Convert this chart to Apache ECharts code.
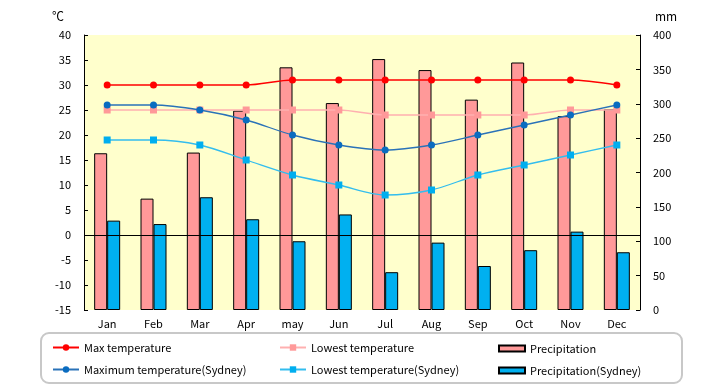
<!DOCTYPE html>
<html><head><meta charset="utf-8">
<script src="https://cdn.jsdelivr.net/npm/echarts@6/dist/echarts.min.js"></script>
<style>html,body{margin:0;padding:0;background:#fff}#c{width:720px;height:385px}</style>
</head><body><div id="c"></div>
<script>
const months = ['Jan','Feb','Mar','Apr','may','Jun','Jul','Aug','Sep','Oct','Nov','Dec'];
const maxTemp = [30,30,30,30,31,31,31,31,31,31,31,30];
const lowTemp = [25,25,25,25,25,25,24,24,24,24,25,25];
const precip = [228,162,229,290,353,301,365,349,306,360,282,292];
const maxTempSyd = [26,26,25,23,20,18,17,18,20,22,24,26];
const lowTempSyd = [19,19,18,15,12,10,8,9,12,14,16,18];
const precipSyd = [130,125,164,132,100,139,55,98,64,87,114,84];
const tempTicks = {min:-15, max:40, step:5};
const mmTicks = {min:0, max:400, step:50};
const names = ['Max temperature','Lowest temperature','Precipitation',
  'Maximum temperature(Sydney)','Lowest temperature(Sydney)','Precipitation(Sydney)'];

const FONT = '"Noto Sans CJK JP", "Noto Sans", sans-serif';
const chart = echarts.init(document.getElementById('c'), null, {renderer:'canvas'});

function legendAt(name, left, top, h, icon){
  const l = {data:[name], left:left, top:top, padding:0, itemWidth:26, itemHeight:h,
    selectedMode:false, textStyle:{fontFamily:FONT, fontSize:11, color:'#000'}};
  if (icon) l.icon = icon;
  return l;
}

const option = {
  animation:false,
  textStyle:{fontFamily:FONT},
  grid:{left:84, right:80, top:35, bottom:75, show:true, backgroundColor:'#FFFFCC', borderWidth:0},
  xAxis:{type:'category', data:months, axisLine:{show:false}, axisTick:{show:false},
    axisLabel:{color:'#000', fontSize:11, fontFamily:FONT, margin:8}},
  yAxis:[
    {type:'value', min:tempTicks.min, max:tempTicks.max, interval:tempTicks.step,
     axisLine:{show:true, lineStyle:{color:'#000', width:1}},
     axisTick:{show:true, inside:true, length:4, lineStyle:{color:'#000'}},
     axisLabel:{color:'#000', fontSize:11, fontFamily:FONT, margin:13},
     splitLine:{show:false}},
    {type:'value', min:mmTicks.min, max:mmTicks.max, interval:mmTicks.step, position:'right',
     axisLine:{show:true, lineStyle:{color:'#000', width:1}},
     axisTick:{show:true, inside:true, length:4, lineStyle:{color:'#000'}},
     axisLabel:{color:'#000', fontSize:11, fontFamily:FONT, margin:13},
     splitLine:{show:false}}
  ],
  legend:[
    legendAt(names[0], 52, 342, 8),
    legendAt(names[1], 279, 342, 8),
    legendAt(names[2], 498, 343, 6, 'rect'),
    legendAt(names[3], 52, 364, 8),
    legendAt(names[4], 279, 364, 8),
    legendAt(names[5], 498, 365, 6, 'rect')
  ],
  graphic:[
    {type:'rect', shape:{x:41, y:333, width:641, height:50, r:8}, style:{fill:'none', stroke:'#C8C8C8', lineWidth:2}, z:-1},
    {type:'text', left:52, top:10, style:{text:'℃', font:'12px '+FONT, fill:'#000'}},
    {type:'text', left:655, top:10, style:{text:'mm', font:'12px '+FONT, fill:'#000'}}
  ],
  series:[
    {name:names[2], type:'bar', yAxisIndex:1, data:precip, barWidth:13, barGap:'0%', z:1,
     itemStyle:{color:'#FF9999', borderColor:'#000', borderWidth:1}},
    {name:names[5], type:'bar', yAxisIndex:1, data:precipSyd, barWidth:13, barGap:'0%', z:1,
     itemStyle:{color:'#00B0F0', borderColor:'#000', borderWidth:1}},
    {name:names[0], type:'line', data:maxTemp, z:4, smooth:0.3, symbol:'circle', symbolSize:7,
     lineStyle:{color:'#FF0000', width:1.3}, itemStyle:{color:'#FF0000'},
     markLine:{silent:true, symbol:'none', label:{show:false}, z:3,
       lineStyle:{color:'#000', width:1, type:'solid'}, data:[{yAxis:0}]}},
    {name:names[1], type:'line', data:lowTemp, z:3, smooth:0.3, symbol:'rect', symbolSize:7,
     lineStyle:{color:'#FFB0B0', width:1.3}, itemStyle:{color:'#FF9999'}},
    {name:names[3], type:'line', data:maxTempSyd, z:4, smooth:0.3, symbol:'circle', symbolSize:7,
     lineStyle:{color:'#2A72B8', width:1.3}, itemStyle:{color:'#0A6CC0'}},
    {name:names[4], type:'line', data:lowTempSyd, z:3, smooth:0.3, symbol:'rect', symbolSize:7,
     lineStyle:{color:'#33BDEE', width:1.3}, itemStyle:{color:'#00AEEF'}}
  ]
};
chart.setOption(option);
</script></body></html>
